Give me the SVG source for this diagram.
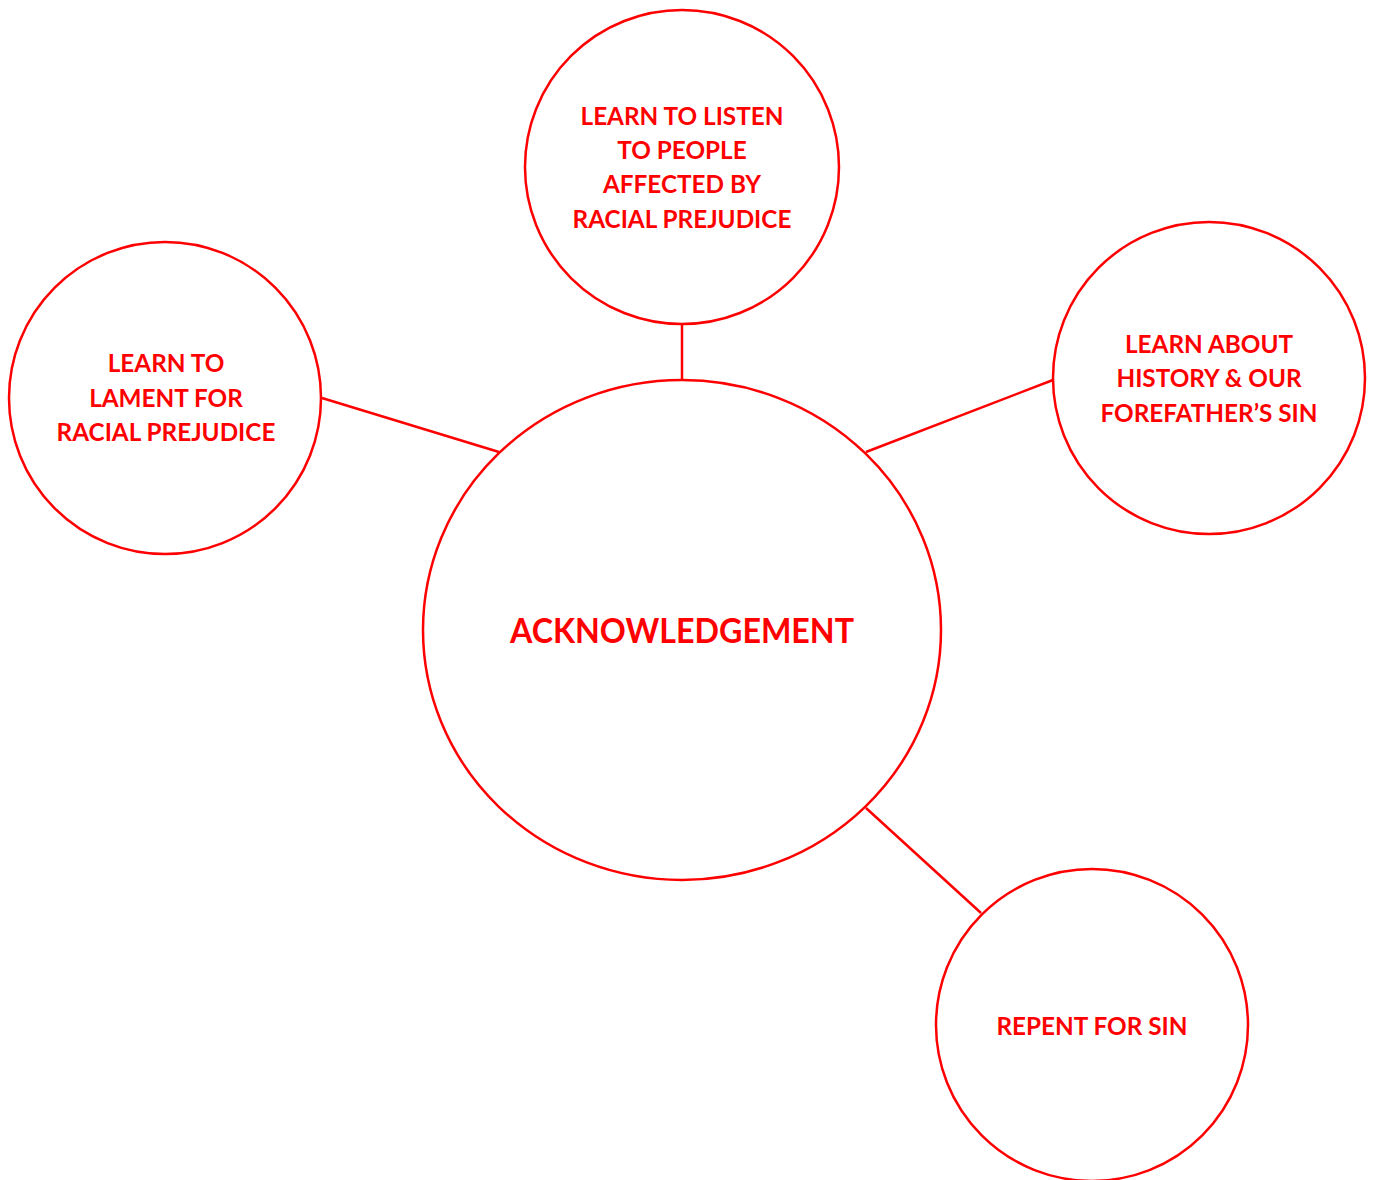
<svg xmlns="http://www.w3.org/2000/svg" width="1373" height="1180" viewBox="0 0 1373 1180">
<style>
.n{fill:#fff;stroke:#ff0000;stroke-width:2.5}
.c{stroke:#ff0000;stroke-width:2.5;fill:none}
.t{font-family:Lato,"Open Sans","Liberation Sans",sans-serif;font-weight:bold;fill:#ff0000;text-anchor:middle}
.s{font-size:24.3px}
.b{font-size:35px}
</style>
<rect width="1373" height="1180" fill="#fff"/>
<g id="connectors">
<line class="c" x1="682" y1="325" x2="682" y2="380"/>
<line class="c" x1="322" y1="398" x2="499" y2="452"/>
<line class="c" x1="1053" y1="380" x2="866" y2="452"/>
<line class="c" x1="866" y1="808" x2="981" y2="913"/>
</g>
<g id="center">
<ellipse class="n" cx="682" cy="630" rx="259" ry="250"/>
<text class="t b" x="682" y="643" textLength="344" lengthAdjust="spacingAndGlyphs">ACKNOWLEDGEMENT</text>
</g>
<g id="top">
<circle class="n" cx="682" cy="167" r="157"/>
<text class="t s" x="682" y="125">LEARN TO LISTEN</text>
<text class="t s" x="682" y="159">TO PEOPLE</text>
<text class="t s" x="682" y="193">AFFECTED BY</text>
<text class="t s" x="682" y="228">RACIAL PREJUDICE</text>
</g>
<g id="left">
<circle class="n" cx="165" cy="398" r="156"/>
<text class="t s" x="166" y="372">LEARN TO</text>
<text class="t s" x="166" y="407">LAMENT FOR</text>
<text class="t s" x="166" y="441">RACIAL PREJUDICE</text>
</g>
<g id="right">
<circle class="n" cx="1209" cy="378" r="156"/>
<text class="t s" x="1209" y="353">LEARN ABOUT</text>
<text class="t s" x="1209" y="387">HISTORY &amp; OUR</text>
<text class="t s" x="1209" y="422">FOREFATHER’S SIN</text>
</g>
<g id="bottom">
<circle class="n" cx="1092" cy="1025" r="156"/>
<text class="t s" x="1092" y="1035">REPENT FOR SIN</text>
</g>
</svg>
